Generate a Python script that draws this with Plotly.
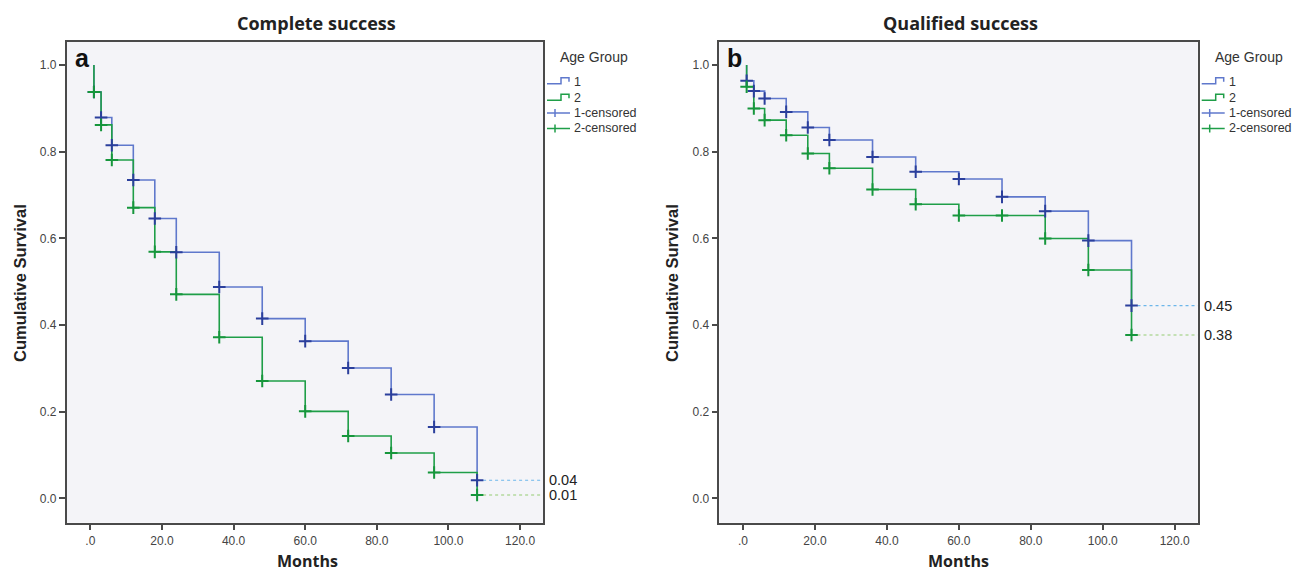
import plotly.graph_objects as go

# ---------------- data ----------------
months = [1, 3, 6, 12, 18, 24, 36, 48, 60, 72, 84, 96, 108]

cs_group1 = [0.938, 0.879, 0.815, 0.735, 0.646, 0.568, 0.488, 0.415, 0.363, 0.301, 0.240, 0.165, 0.042]
cs_group2 = [0.938, 0.862, 0.781, 0.671, 0.569, 0.471, 0.372, 0.271, 0.201, 0.144, 0.105, 0.060, 0.008]

qs_group1 = [0.964, 0.940, 0.923, 0.892, 0.856, 0.827, 0.788, 0.754, 0.737, 0.696, 0.663, 0.595, 0.445]
qs_group2 = [0.950, 0.900, 0.873, 0.838, 0.796, 0.762, 0.713, 0.679, 0.653, 0.653, 0.600, 0.527, 0.377]

cs_end_labels = ["0.04", "0.01"]
qs_end_labels = ["0.45", "0.38"]

panel_titles = ["Complete success", "Qualified success"]
panel_letters = ["a", "b"]
legend_title = "Age Group"
legend_items = ["1", "2", "1-censored", "2-censored"]

x_tickvals = [0, 20, 40, 60, 80, 100, 120]
x_ticktext = [".0", "20.0", "40.0", "60.0", "80.0", "100.0", "120.0"]
y_tickvals = [0.0, 0.2, 0.4, 0.6, 0.8, 1.0]
y_ticktext = ["0.0", "0.2", "0.4", "0.6", "0.8", "1.0"]

start_value = 1.0
X_RANGE = [-6.6, 126.4]
Y_RANGE = [-0.056, 1.054]

# ---------------- styles ----------------
W, H = 1292, 573
BLUE_LINE = "#5f78cc"
BLUE_MARK = "#2b3f9c"
GREEN_LINE = "#1f9e48"
GREEN_MARK = "#16963c"
BLUE_DASH = "#6cb6ea"
GREEN_DASH = "#93cc72"
FRAME = "#4a4a4a"
BG = "#f4f4f8"
TXT = "#333333"


def px(x):
    return x / W


def py(y):
    return 1 - y / H


fig = go.Figure()

panels = [
    dict(g1=cs_group1, g2=cs_group2, labels=cs_end_labels, xa="x", ya="y",
         dom=[px(66.7), px(543)], ax_left=66.7, ax_right=543),
    dict(g1=qs_group1, g2=qs_group2, labels=qs_end_labels, xa="x2", ya="y2",
         dom=[px(719.3), px(1197.7)], ax_left=719.3, ax_right=1197.7),
]

annotations = []
shapes = []

for i, p in enumerate(panels):
    xa, ya = p["xa"], p["ya"]
    xs = [months[0]] + months
    # step lines
    for vals, col in ((p["g1"], BLUE_LINE), (p["g2"], GREEN_LINE)):
        fig.add_trace(go.Scatter(x=xs, y=[start_value] + vals, mode="lines",
                                 line=dict(color=col, width=1.6, shape="hv"),
                                 xaxis=xa, yaxis=ya, showlegend=False, hoverinfo="skip"))
    # dashed extension
    for vals, col in ((p["g1"], BLUE_DASH), (p["g2"], GREEN_DASH)):
        fig.add_trace(go.Scatter(x=[months[-1], X_RANGE[1]], y=[vals[-1], vals[-1]], mode="lines",
                                 line=dict(color=col, width=1.1, dash="dot"),
                                 xaxis=xa, yaxis=ya, showlegend=False, hoverinfo="skip"))
    # censored markers
    for vals, col in ((p["g1"], BLUE_MARK), (p["g2"], GREEN_MARK)):
        fig.add_trace(go.Scatter(x=months, y=vals, mode="markers",
                                 marker=dict(symbol="cross-thin", size=9, color=col,
                                             line=dict(color=col, width=2)),
                                 xaxis=xa, yaxis=ya, showlegend=False, hoverinfo="skip"))
    # end labels
    for lab, vals in zip(p["labels"], (p["g1"], p["g2"])):
        annotations.append(dict(x=px(p["ax_right"] + 4), xref="paper", y=vals[-1], yref=ya,
                                text=lab, showarrow=False, xanchor="left", yanchor="middle",
                                font=dict(family="Liberation Sans, Arial", size=14.5, color="#222")))

    # panel title
    cx = 316 if i == 0 else 960
    annotations.append(dict(x=px(cx), y=py(23), xref="paper", yref="paper", text="<b>%s</b>" % panel_titles[i],
                            showarrow=False, xanchor="center", yanchor="middle",
                            font=dict(family="Open Sans", size=18, color="#222")))
    # letter
    lx = p["ax_left"] + 6
    annotations.append(dict(x=px(lx), y=py(58), xref="paper", yref="paper", text="<b>%s</b>" % panel_letters[i],
                            showarrow=False, xanchor="left", yanchor="middle",
                            font=dict(family="Liberation Sans, Arial", size=25, color="#111")))
    # axis titles
    mx = 307 if i == 0 else 958
    annotations.append(dict(x=px(mx), y=py(561), xref="paper", yref="paper", text="<b>Months</b>",
                            showarrow=False, xanchor="center", yanchor="middle",
                            font=dict(family="Open Sans", size=16, color="#222")))
    yx = 20 if i == 0 else 672
    annotations.append(dict(x=px(yx), y=py(283), xref="paper", yref="paper", text="<b>Cumulative Survival</b>",
                            showarrow=False, xanchor="center", yanchor="middle", textangle=-90,
                            font=dict(family="Liberation Sans, Arial", size=16.5, color="#222")))

    # legend (manual)
    ix = p["ax_right"] + 4
    annotations.append(dict(x=px(ix + 11), y=py(57), xref="paper", yref="paper", text=legend_title,
                            showarrow=False, xanchor="left", yanchor="middle",
                            font=dict(family="Liberation Sans, Arial", size=14, color=TXT)))
    rows = [81.7, 98.3, 113, 128.5]
    cols = [BLUE_LINE, GREEN_LINE, BLUE_LINE, GREEN_LINE]
    for k, (ry, lab, c) in enumerate(zip(rows, legend_items, cols)):
        annotations.append(dict(x=px(ix + 25), y=py(ry), xref="paper", yref="paper", text=lab,
                                showarrow=False, xanchor="left", yanchor="middle",
                                font=dict(family="Liberation Sans, Arial", size=12.5, color=TXT)))
        if k < 2:
            path = "M %f,%f L %f,%f L %f,%f L %f,%f L %f,%f" % (
                px(ix), py(ry + 2), px(ix + 14), py(ry + 2), px(ix + 14), py(ry - 4),
                px(ix + 22), py(ry - 4), px(ix + 22), py(ry))
            shapes.append(dict(type="path", path=path, xref="paper", yref="paper",
                               line=dict(color=c, width=1.5)))
        else:
            shapes.append(dict(type="line", x0=px(ix), x1=px(ix + 23), y0=py(ry), y1=py(ry),
                               xref="paper", yref="paper", line=dict(color=c, width=1.5)))
            shapes.append(dict(type="line", x0=px(ix + 8), x1=px(ix + 8), y0=py(ry - 4), y1=py(ry + 4),
                               xref="paper", yref="paper", line=dict(color=c, width=1.5)))

axis_common = dict(showgrid=False, zeroline=False, showline=True, mirror=True,
                   linecolor=FRAME, linewidth=1.5, ticks="outside", ticklen=6,
                   tickcolor=FRAME, tickwidth=1.5,
                   tickfont=dict(family="Liberation Sans, Arial", size=12, color="#444"))

ydom = [py(522.7), py(41.7)]
fig.update_layout(
    width=W, height=H,
    margin=dict(l=0, r=0, t=0, b=0),
    paper_bgcolor="white",
    plot_bgcolor=BG,
    showlegend=False,
    xaxis=dict(domain=panels[0]["dom"], range=X_RANGE, tickvals=x_tickvals, ticktext=x_ticktext,
               anchor="y", **axis_common),
    yaxis=dict(domain=ydom, range=Y_RANGE, tickvals=y_tickvals, ticktext=y_ticktext,
               anchor="x", **axis_common),
    xaxis2=dict(domain=panels[1]["dom"], range=X_RANGE, tickvals=x_tickvals, ticktext=x_ticktext,
                anchor="y2", **axis_common),
    yaxis2=dict(domain=ydom, range=Y_RANGE, tickvals=y_tickvals, ticktext=y_ticktext,
                anchor="x2", **axis_common),
    annotations=annotations,
    shapes=shapes,
)

fig.write_html("out.html", config={"displayModeBar": False},
               post_script="document.body.style.margin='0px';document.body.style.overflow='hidden';")
